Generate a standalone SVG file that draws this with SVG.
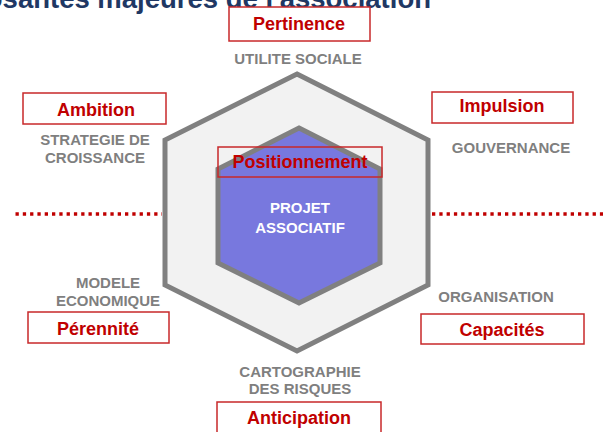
<svg xmlns="http://www.w3.org/2000/svg" width="603" height="432" viewBox="0 0 603 432">
<style>
.title{font-family:"Liberation Sans",Arial,sans-serif;font-weight:bold;font-size:27.5px;fill:#1F3864}
.lab{font-family:"Liberation Sans",Arial,sans-serif;font-weight:bold;font-size:15px;fill:#7F7F7F;text-anchor:middle}
.red{font-family:"Liberation Sans",Arial,sans-serif;font-weight:bold;font-size:18px;fill:#C00000;text-anchor:middle}
.box{fill:#FFFFFF;stroke:#C8282A;stroke-width:1.5}
.center{font-family:"Liberation Sans",Arial,sans-serif;font-weight:bold;font-size:15px;fill:#FFFFFF;text-anchor:middle}
.dots{stroke:#C00000;stroke-width:3.3;stroke-dasharray:3.3 4;fill:none}
</style>
<rect width="603" height="432" fill="#FFFFFF"/>
<text class="title" x="431" y="7.5" text-anchor="end">Composantes majeures de l'association</text>

<g id="connectors">
  <line class="dots" x1="15.5" y1="214" x2="162" y2="214"/>
  <line class="dots" x1="432" y1="214" x2="603" y2="214"/>
</g>

<g id="outer-hexagon">
  <polygon points="297,74 428,140 428,285 297,351 165,285 165,140" fill="#F2F2F2" stroke="#808080" stroke-width="5" stroke-linejoin="miter"/>
</g>

<g id="projet-associatif">
  <polygon points="299,128 380,169 380,263 299,303 218,263 218,169" fill="#7878DE" stroke="#808080" stroke-width="5"/>
  <text class="center" x="300" y="213">PROJET</text>
  <text class="center" x="300" y="233">ASSOCIATIF</text>
</g>

<g id="positionnement">
  <rect x="218" y="147" width="164" height="30" fill="none" stroke="#C8282A" stroke-width="1.5"/>
  <text class="red" x="300" y="168">Positionnement</text>
</g>

<g id="pertinence">
  <rect class="box" x="229" y="7" width="141" height="34"/>
  <text class="red" x="299" y="30">Pertinence</text>
  <text class="lab" x="298" y="64">UTILITE SOCIALE</text>
</g>

<g id="ambition">
  <rect class="box" x="23" y="93" width="143" height="31"/>
  <text class="red" x="96" y="116">Ambition</text>
  <text class="lab" x="95" y="145">STRATEGIE DE</text>
  <text class="lab" x="95" y="163">CROISSANCE</text>
</g>

<g id="impulsion">
  <rect class="box" x="432" y="92" width="141" height="31"/>
  <text class="red" x="502" y="112">Impulsion</text>
  <text class="lab" x="511" y="153">GOUVERNANCE</text>
</g>

<g id="perennite">
  <text class="lab" x="108" y="288">MODELE</text>
  <text class="lab" x="108" y="306">ECONOMIQUE</text>
  <rect class="box" x="28" y="312" width="141" height="31"/>
  <text class="red" x="98" y="335">Pérennité</text>
</g>

<g id="capacites">
  <text class="lab" x="496" y="302">ORGANISATION</text>
  <rect class="box" x="421" y="314" width="163" height="30"/>
  <text class="red" x="502" y="336">Capacités</text>
</g>

<g id="anticipation">
  <text class="lab" x="300" y="377">CARTOGRAPHIE</text>
  <text class="lab" x="300" y="394">DES RISQUES</text>
  <rect class="box" x="217" y="402" width="164" height="32"/>
  <text class="red" x="299" y="424">Anticipation</text>
</g>
</svg>
